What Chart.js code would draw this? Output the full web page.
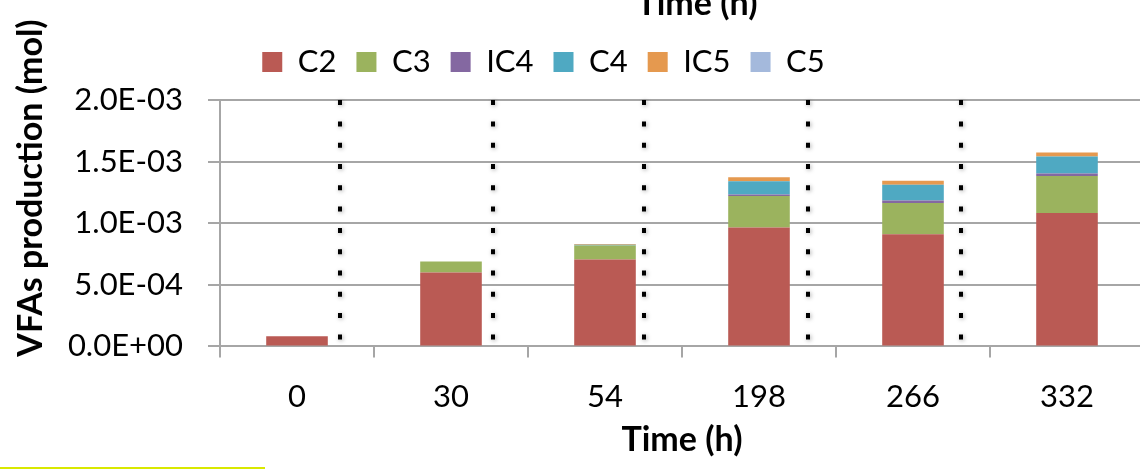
<!DOCTYPE html>
<html>
<head>
<meta charset="utf-8">
<script src="https://cdn.jsdelivr.net/npm/chart.js@4.4.0/dist/chart.umd.min.js"></script>
<style>
    html, body { margin: 0; padding: 0; background: #fff; overflow: hidden; }
    #wrap { position: relative; width: 1140px; height: 469px; overflow: hidden; }
    #box { position: absolute; left: 0; top: 0; width: 1150px; height: 469px; }
    #mark { position: absolute; left: 0; top: 467px; width: 265px; height: 2px; background: #d9e800; }
</style>
</head>
<body>
<div id="wrap">
    <div id="box"><canvas id="myChart"></canvas></div>
    <div id="mark"></div>
</div>
<script>
// time points (h)
const categories = ['0', '30', '54', '198', '266', '332'];

// VFA amounts (mol), stacked
const c2  = [8.3e-5, 6.0e-4, 7.05e-4, 9.65e-4, 9.1e-4, 1.082e-3];
const c3  = [0, 8.9e-5, 1.13e-4, 2.56e-4, 2.54e-4, 3.02e-4];
const ic4 = [0, 0, 0, 1.2e-5, 2.1e-5, 1.9e-5];
const c4  = [0, 0, 8e-6, 1.08e-4, 1.27e-4, 1.38e-4];
const ic5 = [0, 0, 5e-6, 3.2e-5, 3.2e-5, 3.2e-5];
const c5  = [0, 0, 0, 0, 0, 0];

const seriesNames = ['C2', 'C3', 'IC4', 'C4', 'IC5', 'C5'];
const seriesValues = [c2, c3, ic4, c4, ic5, c5];
const seriesColors = ['#ba5a54', '#9bb35e', '#8468a1', '#4fa9c2', '#e5994f', '#a4b9dc'];

const yTickLabels = ['0.0E+00', '5.0E-04', '1.0E-03', '1.5E-03', '2.0E-03'];

// dotted separators, in category units
const separators = [0.28, 1.27, 2.25, 3.32, 4.31];

Chart.defaults.font.family = 'Lato';
Chart.defaults.color = '#000';

const extras = {
    id: 'extras',
    afterInit(chart) {
        // extra gap between legend and plot
        const legend = chart.legend;
        const fit = legend.fit;
        legend.fit = function() { fit.call(this); this.height += 12.5; };
    },
    afterLayout(chart) {
        chart.legend.left -= 56;
        chart.legend.right -= 56;
    },
    afterDatasetsDraw(chart) {
        const ctx = chart.ctx;
        const x = chart.scales.x;
        const a = chart.chartArea;
        ctx.save();
        ctx.strokeStyle = '#000';
        ctx.lineWidth = 4;
        ctx.setLineDash([5, 16.3]);
        ctx.shadowColor = 'rgba(0,0,0,0.35)';
        ctx.shadowBlur = 4;
        ctx.shadowOffsetX = 1;
        ctx.shadowOffsetY = 1;
        separators.forEach(function(v) {
            const px = Math.round(x.getPixelForValue(v));
            ctx.beginPath();
            ctx.moveTo(px, a.bottom - 7);
            ctx.lineTo(px, a.top);
            ctx.stroke();
        });
        ctx.restore();
    },
    afterDraw(chart) {
        const ctx = chart.ctx;
        ctx.save();
        ctx.fillStyle = '#000';
        ctx.font = 'bold 34px Lato';
        ctx.textAlign = 'center';
        ctx.textBaseline = 'alphabetic';
        // top title, cut off by the frame
        ctx.fillText('Time (h)', 697, 15);
        // y axis title
        ctx.translate(42, 188);
        ctx.rotate(-Math.PI / 2);
        ctx.fillText('VFAs production (mol)', 0, 0);
        ctx.restore();
    }
};

document.addEventListener('DOMContentLoaded', function() {
    const ctx = document.getElementById('myChart').getContext('2d');

    const datasets = seriesNames.map(function(name, i) {
        return {
            label: name,
            data: seriesValues[i],
            backgroundColor: seriesColors[i],
            borderWidth: 0,
            categoryPercentage: 0.4,
            barPercentage: 1.0
        };
    });

    const gridGray = '#a6a6a6';

    new Chart(ctx, {
        type: 'bar',
        data: { labels: categories, datasets: datasets },
        options: {
            responsive: true,
            maintainAspectRatio: false,
            animation: false,
            layout: { padding: { top: 26.5, left: 55, right: 6, bottom: 0 } },
            plugins: {
                legend: {
                    position: 'top',
                    labels: {
                        boxWidth: 20,
                        boxHeight: 20,
                        padding: 20,
                        color: '#000',
                        font: { size: 31 }
                    }
                },
                tooltip: { enabled: false }
            },
            scales: {
                x: {
                    stacked: true,
                    grid: {
                        offset: true,
                        drawOnChartArea: false,
                        drawTicks: true,
                        tickLength: 11,
                        color: gridGray,
                        lineWidth: 2
                    },
                    border: { color: gridGray, width: 2 },
                    ticks: { padding: 21, maxRotation: 0, color: '#000', font: { size: 31 } },
                    title: {
                        display: true,
                        text: 'Time (h)',
                        color: '#000',
                        font: { size: 34, weight: 'bold' },
                        padding: { top: -17, bottom: 8.6 }
                    }
                },
                y: {
                    stacked: true,
                    min: 0,
                    max: 0.002,
                    afterFit: function(scale) { scale.width = 165; },
                    grid: { color: gridGray, lineWidth: 2, tickLength: 12 },
                    border: { color: gridGray, width: 2 },
                    ticks: {
                        stepSize: 0.0005,
                        padding: 25,
                        color: '#000',
                        font: { size: 31 },
                        callback: function(value, index) { return yTickLabels[index]; }
                    }
                }
            }
        },
        plugins: [extras]
    });
});
</script>
</body>
</html>
